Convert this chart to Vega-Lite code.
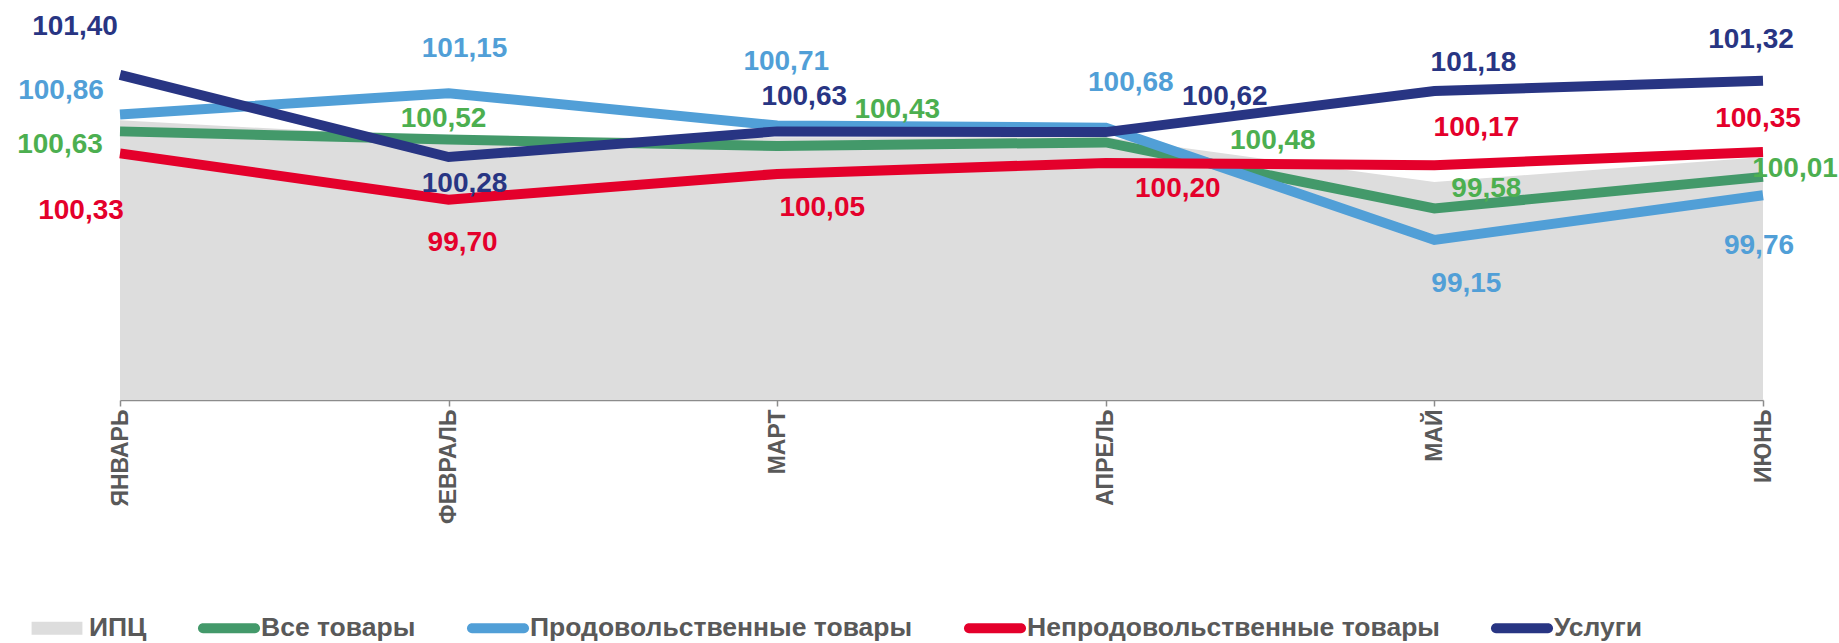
{
  "$schema": "https://vega.github.io/schema/vega-lite/v6.json",
  "width": 1643,
  "height": 400,
  "autosize": {"type": "none"},
  "padding": {"left": 120, "top": 0, "right": 76, "bottom": 243},
  "background": "white",
  "config": {
    "view": {"stroke": null},
    "locale": {"number": {"decimal": ",", "thousands": " ", "grouping": [3], "currency": ["", ""]}},
    "text": {"font": "Liberation Sans", "fontWeight": "bold", "fontSize": 28, "align": "center", "baseline": "middle"},
    "axisX": {"labelAngle": -90, "labelPadding": 3, "tickSize": 6, "domainColor": "#8c8c8c", "tickColor": "#8c8c8c", "domainWidth": 1.5, "tickWidth": 1.5, "labelFontSize": 23, "labelFont": "Liberation Sans", "labelFontWeight": "bold", "labelColor": "#595959", "title": null, "grid": false}
  },
  "data": {"values": [
    {"m": "ЯНВАРЬ", "s": "ИПЦ", "v": 100.78},
    {"m": "ФЕВРАЛЬ", "s": "ИПЦ", "v": 100.54},
    {"m": "МАРТ", "s": "ИПЦ", "v": 100.55},
    {"m": "АПРЕЛЬ", "s": "ИПЦ", "v": 100.55},
    {"m": "МАЙ", "s": "ИПЦ", "v": 99.94},
    {"m": "ИЮНЬ", "s": "ИПЦ", "v": 100.28},
    {"m": "ЯНВАРЬ", "s": "Все товары", "v": 100.63},
    {"m": "ФЕВРАЛЬ", "s": "Все товары", "v": 100.52},
    {"m": "МАРТ", "s": "Все товары", "v": 100.43},
    {"m": "АПРЕЛЬ", "s": "Все товары", "v": 100.48},
    {"m": "МАЙ", "s": "Все товары", "v": 99.58},
    {"m": "ИЮНЬ", "s": "Все товары", "v": 100.01},
    {"m": "ЯНВАРЬ", "s": "Продовольственные товары", "v": 100.86},
    {"m": "ФЕВРАЛЬ", "s": "Продовольственные товары", "v": 101.15},
    {"m": "МАРТ", "s": "Продовольственные товары", "v": 100.71},
    {"m": "АПРЕЛЬ", "s": "Продовольственные товары", "v": 100.68},
    {"m": "МАЙ", "s": "Продовольственные товары", "v": 99.15},
    {"m": "ИЮНЬ", "s": "Продовольственные товары", "v": 99.76},
    {"m": "ЯНВАРЬ", "s": "Непродовольственные товары", "v": 100.33},
    {"m": "ФЕВРАЛЬ", "s": "Непродовольственные товары", "v": 99.70},
    {"m": "МАРТ", "s": "Непродовольственные товары", "v": 100.05},
    {"m": "АПРЕЛЬ", "s": "Непродовольственные товары", "v": 100.20},
    {"m": "МАЙ", "s": "Непродовольственные товары", "v": 100.17},
    {"m": "ИЮНЬ", "s": "Непродовольственные товары", "v": 100.35},
    {"m": "ЯНВАРЬ", "s": "Услуги", "v": 101.40},
    {"m": "ФЕВРАЛЬ", "s": "Услуги", "v": 100.28},
    {"m": "МАРТ", "s": "Услуги", "v": 100.63},
    {"m": "АПРЕЛЬ", "s": "Услуги", "v": 100.62},
    {"m": "МАЙ", "s": "Услуги", "v": 101.18},
    {"m": "ИЮНЬ", "s": "Услуги", "v": 101.32}
  ]},
  "encoding": {
    "x": {"field": "m", "type": "ordinal", "scale": {"type": "point", "padding": 0, "domain": ["ЯНВАРЬ", "ФЕВРАЛЬ", "МАРТ", "АПРЕЛЬ", "МАЙ", "ИЮНЬ"]}},
    "y": {"field": "v", "type": "quantitative", "scale": {"domain": [96.97, 102.42], "zero": false, "nice": false}, "axis": null}
  },
  "layer": [
    {
      "transform": [{"filter": "datum.s === 'ИПЦ'"}],
      "mark": {"type": "area", "opacity": 1, "interpolate": "linear"},
      "encoding": {
        "y2": {"datum": 96.97},
        "color": {
          "field": "s", "type": "nominal",
          "scale": {"domain": ["ИПЦ", "Все товары", "Продовольственные товары", "Непродовольственные товары", "Услуги"], "range": ["#DDDDDD", "#43996A", "#519FD7", "#E4002B", "#283583"]},
          "legend": {
            "orient": "none", "legendX": -94, "legendY": 597, "direction": "horizontal", "title": null,
            "symbolSize": 3844, "symbolType": "M-1,-0.26H1V0.26H-1Z", "symbolStrokeWidth": 0, "symbolOpacity": 1,
            "labelFontSize": 26.5, "labelFont": "Liberation Sans", "labelFontWeight": "bold", "labelColor": "#595959",
            "labelOffset": 1, "columnPadding": 51, "padding": 0, "labelLimit": 600,
            "encode": {"symbols": {"update": {
              "shape": {"signal": "datum.value === 'ИПЦ' ? 'M-0.82,-0.21H0.82V0.21H-0.82Z' : 'M-0.84,-0.16H0.84A0.16,0.16 0 0 1 0.84,0.16H-0.84A0.16,0.16 0 0 1 -0.84,-0.16Z'"},
              "fill": {"scale": "color", "field": "value"},
              "strokeWidth": {"value": 0},
              "opacity": {"value": 1}
            }}}
          }
        }
      }
    },
    {"transform": [{"filter": "datum.s === 'Все товары'"}], "mark": {"type": "line", "strokeWidth": 10, "strokeCap": "butt", "strokeJoin": "miter"}, "encoding": {"color": {"field": "s", "type": "nominal"}}},
    {"transform": [{"filter": "datum.s === 'Продовольственные товары'"}], "mark": {"type": "line", "strokeWidth": 10, "strokeCap": "butt", "strokeJoin": "miter"}, "encoding": {"color": {"field": "s", "type": "nominal"}}},
    {"transform": [{"filter": "datum.s === 'Непродовольственные товары'"}], "mark": {"type": "line", "strokeWidth": 10, "strokeCap": "butt", "strokeJoin": "miter"}, "encoding": {"color": {"field": "s", "type": "nominal"}}},
    {"transform": [{"filter": "datum.s === 'Услуги'"}], "mark": {"type": "line", "strokeWidth": 10, "strokeCap": "butt", "strokeJoin": "miter"}, "encoding": {"color": {"field": "s", "type": "nominal"}}},
    {
      "encoding": {"text": {"field": "v", "type": "quantitative", "format": ".2f"}},
      "layer": [
        {"transform": [{"filter": "datum.s === 'Услуги' && datum.m === 'ЯНВАРЬ'"}], "mark": {"type": "text", "dx": -45, "dy": -48, "color": "#283583"}},
        {"transform": [{"filter": "datum.s === 'Продовольственные товары' && datum.m === 'ЯНВАРЬ'"}], "mark": {"type": "text", "dx": -59, "dy": -23, "color": "#519FD7"}},
        {"transform": [{"filter": "datum.s === 'Все товары' && datum.m === 'ЯНВАРЬ'"}], "mark": {"type": "text", "dx": -60, "dy": 14, "color": "#4CAF50"}},
        {"transform": [{"filter": "datum.s === 'Непродовольственные товары' && datum.m === 'ЯНВАРЬ'"}], "mark": {"type": "text", "dx": -39, "dy": 58, "color": "#E4002B"}},

        {"transform": [{"filter": "datum.s === 'Продовольственные товары' && datum.m === 'ФЕВРАЛЬ'"}], "mark": {"type": "text", "dx": 16, "dy": -44, "color": "#519FD7"}},
        {"transform": [{"filter": "datum.s === 'Все товары' && datum.m === 'ФЕВРАЛЬ'"}], "mark": {"type": "text", "dx": -5, "dy": -20, "color": "#4CAF50"}},
        {"transform": [{"filter": "datum.s === 'Услуги' && datum.m === 'ФЕВРАЛЬ'"}], "mark": {"type": "text", "dx": 16, "dy": 27, "color": "#283583"}},
        {"transform": [{"filter": "datum.s === 'Непродовольственные товары' && datum.m === 'ФЕВРАЛЬ'"}], "mark": {"type": "text", "dx": 14, "dy": 43, "color": "#E4002B"}},

        {"transform": [{"filter": "datum.s === 'Продовольственные товары' && datum.m === 'МАРТ'"}], "mark": {"type": "text", "dx": 9, "dy": -64, "color": "#519FD7"}},
        {"transform": [{"filter": "datum.s === 'Услуги' && datum.m === 'МАРТ'"}], "mark": {"type": "text", "dx": 27, "dy": -34, "color": "#283583"}},
        {"transform": [{"filter": "datum.s === 'Все товары' && datum.m === 'МАРТ'"}], "mark": {"type": "text", "dx": 120, "dy": -36, "color": "#4CAF50"}},
        {"transform": [{"filter": "datum.s === 'Непродовольственные товары' && datum.m === 'МАРТ'"}], "mark": {"type": "text", "dx": 45, "dy": 34, "color": "#E4002B"}},

        {"transform": [{"filter": "datum.s === 'Продовольственные товары' && datum.m === 'АПРЕЛЬ'"}], "mark": {"type": "text", "dx": 25, "dy": -45, "color": "#519FD7"}},
        {"transform": [{"filter": "datum.s === 'Услуги' && datum.m === 'АПРЕЛЬ'"}], "mark": {"type": "text", "dx": 119, "dy": -35, "color": "#283583"}},
        {"transform": [{"filter": "datum.s === 'Все товары' && datum.m === 'АПРЕЛЬ'"}], "mark": {"type": "text", "dx": 167, "dy": -1, "color": "#4CAF50"}},
        {"transform": [{"filter": "datum.s === 'Непродовольственные товары' && datum.m === 'АПРЕЛЬ'"}], "mark": {"type": "text", "dx": 72, "dy": 26, "color": "#E4002B"}},

        {"transform": [{"filter": "datum.s === 'Услуги' && datum.m === 'МАЙ'"}], "mark": {"type": "text", "dx": 39, "dy": -28, "color": "#283583"}},
        {"transform": [{"filter": "datum.s === 'Непродовольственные товары' && datum.m === 'МАЙ'"}], "mark": {"type": "text", "dx": 42, "dy": -37, "color": "#E4002B"}},
        {"transform": [{"filter": "datum.s === 'Все товары' && datum.m === 'МАЙ'"}], "mark": {"type": "text", "dx": 52, "dy": -19, "color": "#4CAF50"}},
        {"transform": [{"filter": "datum.s === 'Продовольственные товары' && datum.m === 'МАЙ'"}], "mark": {"type": "text", "dx": 32, "dy": 44, "color": "#519FD7"}},

        {"transform": [{"filter": "datum.s === 'Услуги' && datum.m === 'ИЮНЬ'"}], "mark": {"type": "text", "dx": -12, "dy": -41, "color": "#283583"}},
        {"transform": [{"filter": "datum.s === 'Непродовольственные товары' && datum.m === 'ИЮНЬ'"}], "mark": {"type": "text", "dx": -5, "dy": -33, "color": "#E4002B"}},
        {"transform": [{"filter": "datum.s === 'Все товары' && datum.m === 'ИЮНЬ'"}], "mark": {"type": "text", "dx": 32, "dy": -8, "color": "#4CAF50"}},
        {"transform": [{"filter": "datum.s === 'Продовольственные товары' && datum.m === 'ИЮНЬ'"}], "mark": {"type": "text", "dx": -4, "dy": 51, "color": "#519FD7"}}
      ]
    }
  ]
}
